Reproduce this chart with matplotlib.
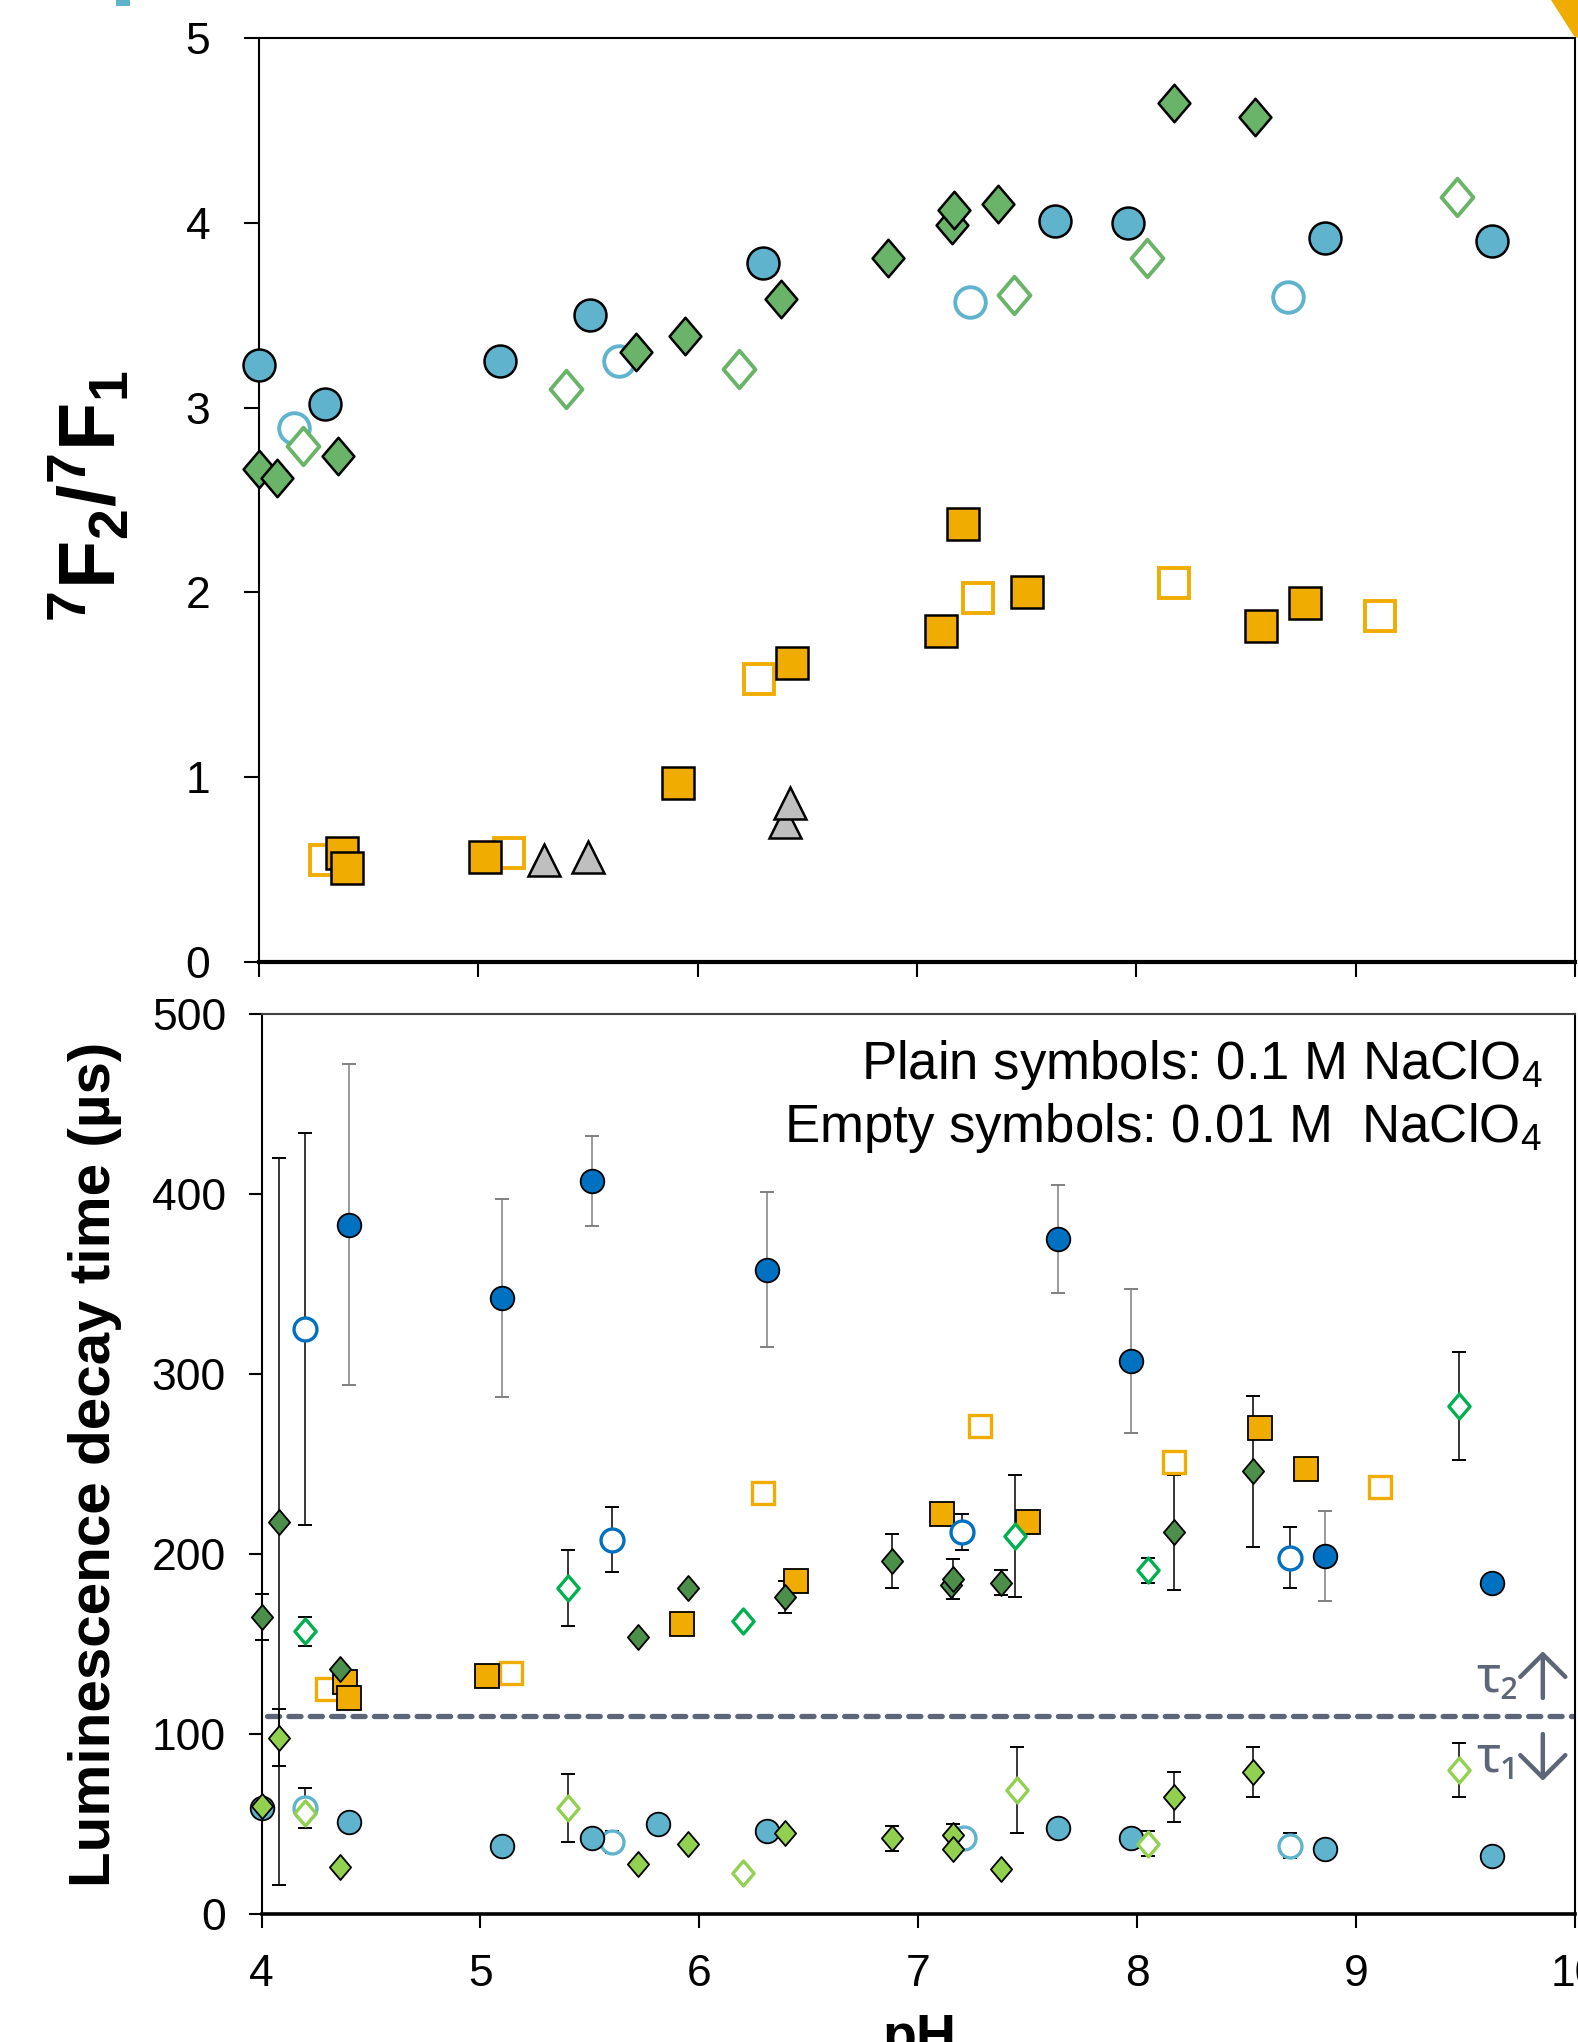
import matplotlib
matplotlib.use('Agg')
import numpy as np
from matplotlib import pyplot as plt
from matplotlib.path import Path
from matplotlib.patches import Rectangle, Polygon

plt.rcParams['font.family'] = ['Liberation Sans', 'DejaVu Sans']
plt.rcParams['mathtext.fontset'] = 'custom'
plt.rcParams['mathtext.rm'] = 'Liberation Sans'
plt.rcParams['mathtext.it'] = 'Liberation Sans:italic'
plt.rcParams['mathtext.bf'] = 'Liberation Sans:bold'

#############################################################
# top panel: 7F2/7F1 ratio vs pH
#############################################################
ph_circ = [4.00, 4.30, 5.10, 5.51, 6.30, 7.63, 7.96, 8.86, 9.62]
r_circ = [3.23, 3.02, 3.25, 3.50, 3.78, 4.01, 4.00, 3.92, 3.90]
ph_circ_e = [4.16, 5.64, 7.24, 8.69]
r_circ_e = [2.89, 3.25, 3.57, 3.60]
ph_diam = [4.00, 4.08, 4.36, 5.72, 5.94, 6.38, 6.87, 7.16, 7.17, 7.37, 8.17, 8.54]
r_diam = [2.67, 2.62, 2.74, 3.30, 3.39, 3.59, 3.81, 3.99, 4.07, 4.10, 4.65, 4.57]
ph_diam_e = [4.20, 5.40, 6.19, 7.44, 8.05, 9.46]
r_diam_e = [2.79, 3.10, 3.21, 3.61, 3.81, 4.14]
ph_sq = [4.38, 4.40, 5.03, 5.91, 6.43, 7.11, 7.21, 7.50, 8.57, 8.77]
r_sq = [0.59, 0.51, 0.57, 0.97, 1.62, 1.79, 2.37, 2.00, 1.82, 1.94]
ph_sq_e = [4.30, 5.14, 6.28, 7.28, 8.17, 9.11]
r_sq_e = [0.55, 0.59, 1.53, 1.97, 2.05, 1.87]
ph_tri = [5.30, 5.50, 6.40, 6.42]
r_tri = [0.55, 0.57, 0.76, 0.86]

#############################################################
# bottom panel: decay times tau2 (>110) and tau1 (<110)
#############################################################
ph_t2_blue = [4.40, 5.10, 5.51, 6.31, 7.64, 7.97, 8.86, 9.62]
t2_blue = [383, 342, 407, 358, 375, 307, 199, 184]
t2_blue_err = [89, 55, 25, 43, 30, 40, 25, 0]
ph_t2_blue_e = [4.20, 5.60, 7.20, 8.70]
t2_blue_e = [325, 208, 212, 198]
t2_blue_e_err = [109, 18, 10, 17]
ph_t2_dg = [4.00, 4.08, 4.36, 5.72, 5.95, 6.39, 6.88, 7.15, 7.16, 7.38, 8.17, 8.53]
t2_dg = [165, 218, 136, 154, 181, 176, 196, 183, 186, 184, 212, 246]
t2_dg_err = [13, 202, 0, 0, 0, 9, 15, 0, 11, 7, 32, 42]
ph_t2_g_e = [4.20, 5.40, 6.20, 7.44, 8.05, 9.47]
t2_g_e = [157, 181, 163, 210, 191, 282]
t2_g_e_err = [8, 21, 0, 34, 7, 30]
ph_t_sq = [4.38, 4.40, 5.03, 5.92, 6.44, 7.11, 7.50, 8.56, 8.77]
t_sq = [129, 120, 132, 161, 185, 222, 218, 270, 247]
ph_t_sq_e = [4.30, 5.14, 6.29, 7.28, 8.17, 9.11]
t_sq_e = [125, 134, 234, 271, 251, 237]

ph_t1_blue = [4.00, 4.40, 5.10, 5.51, 5.81, 6.31, 7.64, 7.97, 8.86, 9.62]
t1_blue = [59, 51, 38, 42, 50, 46, 48, 42, 36, 32]
ph_t1_blue_e = [4.20, 5.60, 7.21, 8.70]
t1_blue_e = [59, 40, 42, 38]
t1_blue_e_err = [11, 6, 0, 7]
ph_t1_lg = [4.00, 4.08, 4.36, 5.72, 5.95, 6.39, 6.88, 7.16, 7.16, 7.38, 8.17, 8.53]
t1_lg = [60, 98, 26, 28, 39, 45, 42, 44, 36, 25, 65, 79]
t1_lg_err = [0, 16, 0, 0, 0, 0, 7, 6, 0, 0, 14, 14]
ph_t1_lg_e = [4.20, 5.40, 6.20, 7.45, 8.05, 9.47]
t1_lg_e = [56, 59, 23, 69, 39, 80]
t1_lg_e_err = [0, 19, 0, 24, 7, 15]

tau_split = 110

# colours
c_blue = '#5fb3cd'
c_green = '#6ab46a'
c_orange = '#f0ac00'
c_grey = '#bfbfbf'
c_dblue = '#0070c0'
c_dgreen = '#4b8f4b'
c_bgreen = '#00b050'
c_lgreen = '#92d050'
c_slate = '#5d6579'

diamond = Path([(0, 1), (0.85, 0), (0, -1), (-0.85, 0), (0, 1)],
               [Path.MOVETO, Path.LINETO, Path.LINETO, Path.LINETO, Path.CLOSEPOLY])

fig = plt.figure(figsize=(15.78, 20.42), dpi=100)
W, H = 1578.0, 2042.0

def axes_px(l, t, r, b):
    return fig.add_axes([l / W, 1 - b / H, (r - l) / W, (b - t) / H])

def pts(ax, x, y, marker, size, face, edge, lw, z=3):
    ax.plot(x, y, ls='none', marker=marker, ms=size, mfc=face, mec=edge, mew=lw,
            clip_on=False, zorder=z)

def ebar(ax, x, y, e, color='black'):
    x, y, e = np.asarray(x), np.asarray(y), np.asarray(e)
    m = e > 0
    ax.errorbar(x[m], y[m], yerr=e[m], fmt='none', ecolor=color, elinewidth=1.1,
                capsize=5, capthick=1.4, zorder=2, clip_on=False)

# ---------------- top ----------------
ax1 = axes_px(259, 38, 1575, 962)
pts(ax1, ph_circ_e, r_circ_e, 'o', 22, 'white', c_blue, 2.8)
pts(ax1, ph_circ, r_circ, 'o', 23, c_blue, 'black', 1.8)
pts(ax1, ph_diam_e, r_diam_e, diamond, 27, 'white', c_green, 2.8, 4)
pts(ax1, ph_diam, r_diam, diamond, 27, c_green, 'black', 1.8, 4)
pts(ax1, ph_sq_e, r_sq_e, 's', 22, 'white', c_orange, 2.8, 5)
pts(ax1, ph_sq, r_sq, 's', 23, c_orange, 'black', 1.8, 5)
pts(ax1, ph_tri, r_tri, '^', 23, c_grey, 'black', 1.8, 6)

ax1.set_xlim(4, 10)
ax1.set_ylim(0, 5)
ax1.set_xticks(range(4, 11))
ax1.set_yticks(range(0, 6))
ax1.tick_params(axis='x', direction='out', length=10.5, width=1.5, labelbottom=False)
ax1.tick_params(axis='y', direction='out', length=11, width=1.5, labelsize=32, pad=24)
for s in ['left', 'top', 'right']:
    ax1.spines[s].set_linewidth(1.5)
ax1.spines['bottom'].set_linewidth(3.0)

fig.text(91 / W, 1 - 496 / H, r'$\mathbf{^7F_2/^7F_1}$', rotation=90,
         ha='center', va='center', fontsize=57)

# ---------------- bottom ----------------
ax2 = axes_px(261.5, 1014, 1575, 1914)
ebar(ax2, ph_t2_blue, t2_blue, t2_blue_err, '#7f7f7f')
ebar(ax2, ph_t2_blue_e, t2_blue_e, t2_blue_e_err)
ebar(ax2, ph_t2_dg, t2_dg, t2_dg_err)
ebar(ax2, ph_t2_g_e, t2_g_e, t2_g_e_err)
ebar(ax2, ph_t1_blue_e, t1_blue_e, t1_blue_e_err)
ebar(ax2, ph_t1_lg, t1_lg, t1_lg_err)
ebar(ax2, ph_t1_lg_e, t1_lg_e, t1_lg_e_err)

ax2.axhline(tau_split, xmin=0.004, color=c_slate, lw=3.8, ls=(0, (2.3, 1.75)),
            dash_capstyle='round', zorder=1)

pts(ax2, ph_t_sq_e, t_sq_e, 's', 16.5, 'white', c_orange, 2.4, 3)
pts(ax2, ph_t_sq, t_sq, 's', 17, c_orange, 'black', 1.3, 3)
pts(ax2, ph_t2_blue_e, t2_blue_e, 'o', 16.5, 'white', c_dblue, 2.4, 4)
pts(ax2, ph_t2_blue, t2_blue, 'o', 17, c_dblue, 'black', 1.3, 4)
pts(ax2, ph_t1_blue_e, t1_blue_e, 'o', 16.5, 'white', c_blue, 2.4, 4)
pts(ax2, ph_t1_blue, t1_blue, 'o', 17, c_blue, 'black', 1.3, 4)
pts(ax2, ph_t2_g_e, t2_g_e, diamond, 18, 'white', c_bgreen, 2.4, 5)
pts(ax2, ph_t2_dg, t2_dg, diamond, 18, c_dgreen, 'black', 1.3, 5)
pts(ax2, ph_t1_lg_e, t1_lg_e, diamond, 18, 'white', c_lgreen, 2.4, 5)
pts(ax2, ph_t1_lg, t1_lg, diamond, 18, c_lgreen, 'black', 1.3, 5)

ax2.set_xlim(4, 10)
ax2.set_ylim(0, 500)
ax2.set_xticks(range(4, 11))
ax2.set_yticks(range(0, 501, 100))
ax2.tick_params(axis='x', direction='out', length=10, width=1.5, labelsize=32, pad=19)
ax2.tick_params(axis='y', direction='out', length=9.5, width=1.5, labelsize=32, pad=16)
for s in ['left', 'right']:
    ax2.spines[s].set_linewidth(1.5)
ax2.spines['top'].set_linewidth(1.5)
ax2.spines['top'].set_color('#404040')
ax2.spines['bottom'].set_linewidth(2.6)

ax2.text(0.975, 0.943, 'Plain symbols: 0.1 M NaClO$_4$', transform=ax2.transAxes,
         ha='right', va='center', fontsize=38)
ax2.text(0.975, 0.873, 'Empty symbols: 0.01 M  NaClO$_4$', transform=ax2.transAxes,
         ha='right', va='center', fontsize=38)

ax2.text(9.645, 123.5, 'τ₂', ha='center', va='baseline', fontsize=36,
         color=c_slate, family=['Noto Sans', 'DejaVu Sans'])
ax2.text(9.645, 79, 'τ₁', ha='center', va='baseline', fontsize=36,
         color=c_slate, family=['Noto Sans', 'DejaVu Sans'])
arrow = dict(arrowstyle='->,head_length=0.45,head_width=0.45', color=c_slate,
             lw=3.2, mutation_scale=36, shrinkA=0, shrinkB=0)
ax2.annotate('', xy=(9.853, 146), xytext=(9.853, 120), arrowprops=arrow)
ax2.annotate('', xy=(9.853, 74), xytext=(9.853, 100), arrowprops=arrow)

fig.text(95 / W, 1 - 1464 / H, 'Luminescence decay time (µs)', rotation=90,
         ha='center', va='center', fontsize=42, fontweight='bold')
fig.text(919 / W, 1 - 2013 / H, 'pH', ha='center', va='top', fontsize=40,
         fontweight='bold')

# fragments of neighbouring panels at the crop edges
fig.add_artist(Rectangle((116 / W, 1 - 6 / H), 14 / W, 6 / H,
                         transform=fig.transFigure, color=c_blue, lw=0))
fig.add_artist(Polygon([(1551 / W, 1), (1578 / W, 1), (1578 / W, 1 - 38 / H),
                        (1574 / W, 1 - 36 / H)], closed=True,
                       transform=fig.transFigure, color=c_orange, lw=0))

fig.savefig('out.png', dpi=100)
